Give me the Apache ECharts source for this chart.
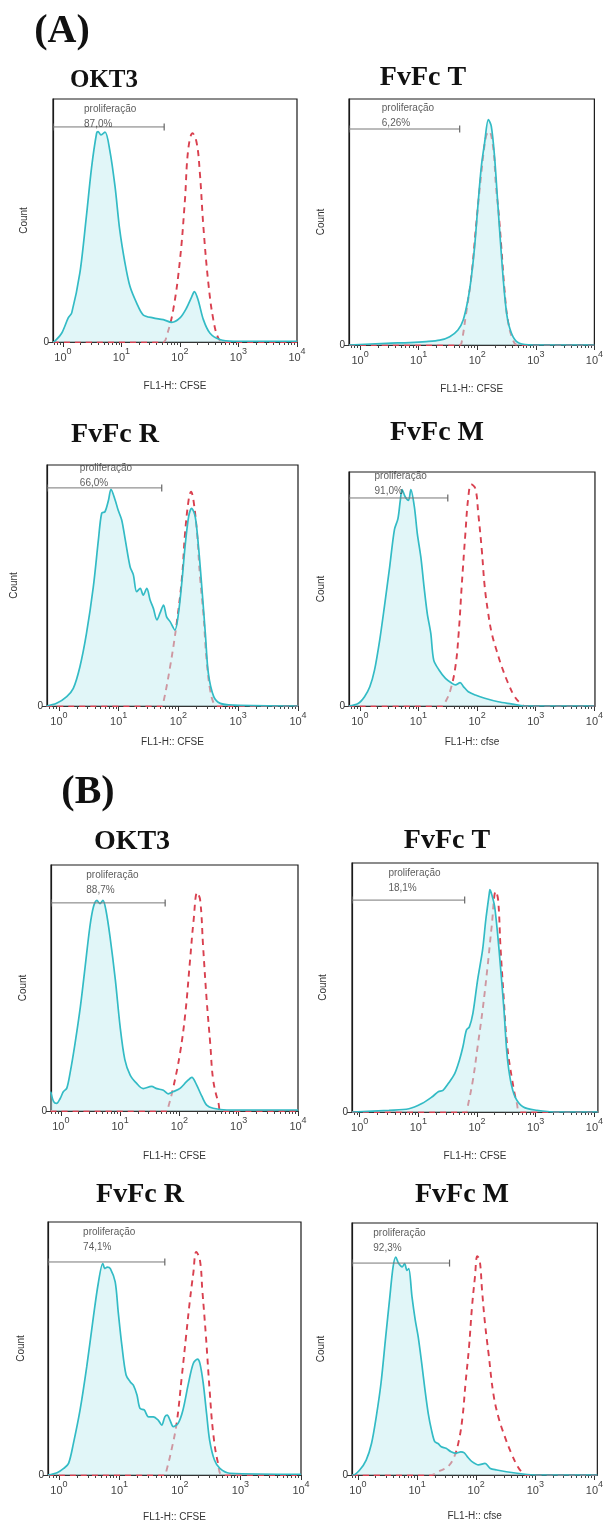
<!DOCTYPE html>
<html><head><meta charset="utf-8">
<script src="https://cdn.jsdelivr.net/npm/echarts@6/dist/echarts.min.js"></script>
<style>html,body{margin:0;padding:0;background:#fff}#c{width:606px;height:1526px}</style>
</head><body><div id="c"></div>
<script>
// ---------- DATA (x = log10 FL1-H intensity, y = count as % of plot height) ----------
const sectionLabels = ['(A)', '(B)'];
const panelTitles = ['OKT3', 'FvFc T', 'FvFc R', 'FvFc M', 'OKT3', 'FvFc T', 'FvFc R', 'FvFc M'];
const xAxisNames = ['FL1-H:: CFSE', 'FL1-H:: CFSE', 'FL1-H:: CFSE', 'FL1-H:: cfse', 'FL1-H:: CFSE', 'FL1-H:: CFSE', 'FL1-H:: CFSE', 'FL1-H:: cfse'];
const yAxisName = 'Count';
const gateName = 'proliferação';
const gatePercents = ['87,0%', '6,26%', '66,0%', '91,0%', '88,7%', '18,1%', '74,1%', '92,3%'];
const gateEnds = [1.73, 1.70, 1.72, 1.50, 1.76, 1.79, 1.75, 1.55];
const gateLevels = [88.5, 87.8, 90.5, 88.9, 84.6, 85.1, 84.2, 84.1];
const majorTicks = [0, 1, 2, 3, 4];
const yTicks = [0];

const A_OKT3_sample = [[-0.17,0],[-0.14,0.3],[-0.02,3.7],[0.09,9.9],[0.15,12],[0.29,28.5],[0.40,51.6],[0.49,72],[0.575,85.9],[0.60,86.6],[0.65,85.2],[0.72,86.4],[0.80,79],[0.89,64],[0.97,46.2],[1.06,32.5],[1.145,22.9],[1.26,16],[1.37,11.2],[1.54,9.9],[1.715,9.2],[1.86,8.1],[2.0,9.9],[2.11,13.9],[2.2,18.6],[2.245,20.7],[2.31,17.3],[2.40,9.2],[2.51,3.7],[2.68,1],[2.91,0.3],[4.0,0.3]];
const A_OKT3_control = [[-0.17,0],[1.715,0],[1.77,2.3],[1.885,13.3],[2.0,33.8],[2.085,58.5],[2.14,79],[2.215,85.9],[2.285,82],[2.34,69.5],[2.40,47.5],[2.485,24.2],[2.57,9.2],[2.655,1.6],[2.74,0],[4,0]];

const A_FvFcT_sample = [[-0.19,0],[0.45,0.7],[0.85,1],[1.13,1.4],[1.36,2],[1.53,3.4],[1.67,6.1],[1.76,10.2],[1.84,18.3],[1.90,27.8],[1.955,40],[2.01,56.3],[2.07,72.6],[2.125,82.1],[2.19,91.6],[2.24,88.9],[2.295,76.7],[2.35,57.7],[2.41,37.3],[2.465,21],[2.52,10.2],[2.61,3.4],[2.72,0.7],[2.95,0],[4,0]];
const A_FvFcT_control = [[-0.19,0],[1.70,0],[1.73,0.7],[1.81,12.9],[1.90,27.8],[1.98,48.2],[2.07,69.9],[2.15,84.8],[2.20,86.8],[2.27,80.6],[2.32,64.4],[2.37,52.2],[2.41,40],[2.465,22.4],[2.52,10.2],[2.61,2],[2.69,0],[4,0]];

const A_FvFcR_sample = [[-0.21,0],[-0.04,1.1],[0.13,3.9],[0.24,7.3],[0.35,16.2],[0.46,30],[0.575,49.4],[0.66,68.9],[0.715,80],[0.77,80.6],[0.83,85.5],[0.87,89.9],[0.94,85.5],[0.99,81.3],[1.05,77.2],[1.11,68.9],[1.19,57.8],[1.245,54.4],[1.30,47.4],[1.36,48.8],[1.41,46],[1.47,48.8],[1.525,44],[1.58,40.5],[1.64,35.7],[1.69,38.5],[1.75,41.9],[1.80,37.1],[1.86,35],[1.94,31.5],[2.0,38.5],[2.06,52.3],[2.11,66.1],[2.17,78.6],[2.22,82],[2.28,78.6],[2.335,66.1],[2.39,49.5],[2.45,30],[2.50,13.5],[2.59,3.9],[2.70,1.1],[2.92,0.4],[4,0]];
const A_FvFcR_control = [[-0.21,0],[1.72,0],[1.75,1.8],[1.86,16.3],[1.97,34.3],[2.06,53.7],[2.11,71.7],[2.17,85.5],[2.21,88.9],[2.25,85.5],[2.31,71.7],[2.36,53.7],[2.42,37.1],[2.47,19.1],[2.53,6.6],[2.59,1.1],[2.64,0],[4,0]];

const A_FvFcM_sample = [[-0.19,0],[-0.03,1.1],[0.08,4],[0.17,8.2],[0.25,15.3],[0.34,28.4],[0.42,42.7],[0.51,59.7],[0.59,75.4],[0.65,80.1],[0.69,87.9],[0.72,92.5],[0.775,89.3],[0.83,87.9],[0.87,92.5],[0.93,85.1],[0.98,73.7],[1.04,63.7],[1.095,50.9],[1.15,39.5],[1.21,31],[1.26,19.6],[1.35,15.4],[1.46,11.8],[1.57,9.7],[1.63,9],[1.71,10],[1.77,8.2],[1.85,6.1],[1.97,4.7],[2.13,3.3],[2.36,1.8],[2.58,0.9],[2.81,0],[4,0]];
const A_FvFcM_control = [[-0.19,0],[1.40,0],[1.46,1.8],[1.545,6.8],[1.63,16.8],[1.685,31],[1.74,52.3],[1.80,73.7],[1.85,89.3],[1.90,94.7],[1.97,92.9],[2.02,82.2],[2.08,66.6],[2.13,50.9],[2.19,39.5],[2.25,31],[2.33,23.9],[2.42,16.8],[2.53,9.7],[2.64,4],[2.75,0.9],[2.81,0],[4,0]];

const B_OKT3_sample = [[-0.17,7.9],[-0.12,3.8],[-0.07,3.1],[-0.01,5.1],[0.045,7.9],[0.10,9.2],[0.155,15.2],[0.24,27.4],[0.33,42.3],[0.41,58.5],[0.49,74.8],[0.55,82.9],[0.61,85.6],[0.66,84.3],[0.71,85.6],[0.76,81.8],[0.83,70.9],[0.92,53.3],[1.0,34.4],[1.08,20.9],[1.17,14.6],[1.28,11.2],[1.39,9.1],[1.53,10],[1.62,9.1],[1.73,8.4],[1.81,7.0],[1.90,7.9],[2.01,9.2],[2.12,11.9],[2.21,13.7],[2.29,10.6],[2.38,5.9],[2.46,2.4],[2.57,1.1],[2.80,0.4],[4,0.4]];
const B_OKT3_control = [[-0.17,0],[1.79,0],[1.815,1.8],[1.90,9.9],[2.01,23.4],[2.10,39.7],[2.18,61.4],[2.24,77.6],[2.30,88.8],[2.35,85.8],[2.40,66.8],[2.46,45.1],[2.52,27.5],[2.57,12.6],[2.66,3.1],[2.71,0],[4,0]];

const B_FvFcT_sample = [[-0.13,0],[0.50,0.7],[0.84,1.3],[1.06,3.4],[1.23,6.0],[1.34,8.1],[1.42,8.7],[1.51,11.4],[1.62,15.4],[1.70,20.8],[1.76,26.2],[1.82,32.9],[1.87,34.2],[1.93,39.6],[2.01,53],[2.095,65.1],[2.15,77.2],[2.21,87.9],[2.22,89.3],[2.26,86.6],[2.30,82.6],[2.35,71.8],[2.40,58.4],[2.46,40.9],[2.51,23.5],[2.57,12.8],[2.65,6],[2.79,2],[3.02,0.7],[3.35,0],[4.06,0]];
const B_FvFcT_control = [[-0.13,0],[1.82,0],[1.84,2],[1.93,12.8],[2.01,26.2],[2.095,40.9],[2.18,58.4],[2.25,74.5],[2.32,88.6],[2.36,85.2],[2.40,66.4],[2.45,47.7],[2.51,27.5],[2.60,12.8],[2.68,3.4],[2.74,0],[4.06,0]];

const B_FvFcR_sample = [[-0.18,0],[-0.03,0.9],[0.08,2.6],[0.16,4.6],[0.24,12.5],[0.35,25.7],[0.46,42.8],[0.57,62.5],[0.65,75.7],[0.725,83.6],[0.76,81.6],[0.80,82.2],[0.85,81.6],[0.93,76.3],[0.98,64.5],[1.04,51.3],[1.11,39.5],[1.18,36.8],[1.23,35.5],[1.29,31.6],[1.34,26.3],[1.41,25.7],[1.48,23.0],[1.56,23.0],[1.64,21.7],[1.70,19.7],[1.75,23.0],[1.79,23.7],[1.835,21.7],[1.89,19.1],[1.97,20.4],[2.05,25.7],[2.14,36.2],[2.22,44.1],[2.29,45.8],[2.33,44.1],[2.385,36.2],[2.44,24.3],[2.49,13.8],[2.57,5.9],[2.66,2.6],[2.82,0.7],[4,0.3]];
const B_FvFcR_control = [[-0.18,0],[1.75,0],[1.78,2],[1.86,9.9],[1.945,20.4],[2.03,38.8],[2.10,54.6],[2.165,69.1],[2.22,79.6],[2.27,88.2],[2.33,84.9],[2.37,73],[2.43,54.6],[2.49,33.6],[2.55,16.4],[2.63,4.6],[2.71,0],[4,0]];

const B_FvFcM_sample = [[-0.1,0],[-0.08,0],[0.03,2],[0.14,5.9],[0.23,12.5],[0.31,23.1],[0.39,36.3],[0.47,54.8],[0.54,70.7],[0.595,82.6],[0.64,86.5],[0.69,83.9],[0.75,82.6],[0.79,83.9],[0.83,81.2],[0.86,81.9],[0.915,70.7],[0.97,61.5],[1.02,54.8],[1.08,44.2],[1.135,33.7],[1.19,24.4],[1.245,17.8],[1.30,13.2],[1.355,12.5],[1.41,11.2],[1.49,10.6],[1.575,9.2],[1.66,8.6],[1.74,9.2],[1.80,8.8],[1.85,7.3],[1.93,5.3],[2.04,4],[2.15,4.6],[2.24,2.6],[2.35,2],[2.51,1.3],[2.79,0.4],[3.01,0],[4.05,0]];
const B_FvFcM_control = [[-0.1,0],[1.245,0],[1.355,1.3],[1.52,3.3],[1.63,7.3],[1.71,13.9],[1.77,23.1],[1.82,36.3],[1.88,50.9],[1.93,66.7],[1.98,78.6],[2.02,86.8],[2.06,85.2],[2.10,73.3],[2.15,60.1],[2.21,48.2],[2.29,32.4],[2.375,23.1],[2.485,15.2],[2.595,8.6],[2.705,3.3],[2.79,0.7],[2.84,0],[4.05,0]];

const samples = [A_OKT3_sample, A_FvFcT_sample, A_FvFcR_sample, A_FvFcM_sample, B_OKT3_sample, B_FvFcT_sample, B_FvFcR_sample, B_FvFcM_sample];
const controls = [A_OKT3_control, A_FvFcT_control, A_FvFcR_control, A_FvFcM_control, B_OKT3_control, B_FvFcT_control, B_FvFcR_control, B_FvFcM_control];

// ---------- LAYOUT ----------
const layout = [
  {left:53,  top:99,   w:244, h:243, xMin:-0.17,  xMax:4,    tx:104, ty:81,   ts:25, cGap:24, nGap:39, lx:0.36, ly:92.8},
  {left:349, top:99,   w:246, h:246, xMin:-0.19,  xMax:4,    tx:423, ty:78,   ts:28, cGap:23, nGap:39, lx:0.37, ly:93.3},
  {left:47,  top:465,  w:251, h:241, xMin:-0.2,   xMax:4,    tx:115, ty:435,  ts:28, cGap:28, nGap:31, lx:0.35, ly:95.5},
  {left:349, top:472,  w:249, h:234, xMin:-0.185, xMax:4.01, tx:437, ty:433,  ts:28, cGap:23, nGap:31, lx:0.25, ly:95.0},
  {left:51,  top:865,  w:247, h:246, xMin:-0.165, xMax:4,    tx:132, ty:842,  ts:28, cGap:23, nGap:40, lx:0.43, ly:92.9},
  {left:352, top:863,  w:250, h:249, xMin:-0.13,  xMax:4.06, tx:447, ty:841,  ts:28, cGap:24, nGap:39, lx:0.49, ly:93.0},
  {left:48,  top:1222, w:253, h:253, xMin:-0.18,  xMax:4,    tx:140, ty:1195, ts:28, cGap:22, nGap:37, lx:0.40, ly:92.9},
  {left:352, top:1223, w:251, h:252, xMin:-0.1,   xMax:4.05, tx:462, ty:1195, ts:28, cGap:26, nGap:36, lx:0.26, ly:93.1}
];
const sectionPos = [{x:62, y:32}, {x:88, y:793}];

// minor ticks (2..9 x 10^n) in log space
const minorTicks = [];
for (let n = -1; n < 4; n++) for (let k = 2; k <= 9; k++) minorTicks.push(n + Math.log10(k));

const SANS = '"Liberation Sans", Arial, sans-serif';
const SERIF = '"Liberation Serif", "Times New Roman", serif';

const grid = [], xAxis = [], yAxis = [], series = [], graphic = [];
layout.forEach((L, i) => {
  grid.push({left: L.left, top: L.top, width: L.w, height: L.h, show: true, borderColor: '#1a1a1a', borderWidth: 1.2, containLabel: false});
  const ticksIn = majorTicks.filter(v => v >= L.xMin && v <= L.xMax + 1e-9);
  xAxis.push({
    gridIndex: i, type: 'value', min: L.xMin, max: L.xMax, position: 'bottom',
    axisLine: {show: true, onZero: false, lineStyle: {color: '#333', width: 1.2}},
    axisTick: {show: true, customValues: ticksIn, length: 5, lineStyle: {color: '#333', width: 1}},
    axisLabel: {
      customValues: ticksIn, margin: 5, color: '#444',
      formatter: v => '{b|10}{s|' + Math.round(v) + '}',
      rich: {b: {fontSize: 11, lineHeight: 16, verticalAlign: 'bottom', fontFamily: SANS, color: '#444'},
             s: {fontSize: 9, lineHeight: 12, verticalAlign: 'top', fontFamily: SANS, color: '#444'}}
    },
    splitLine: {show: false},
    name: xAxisNames[i], nameLocation: 'middle', nameGap: L.nGap,
    nameTextStyle: {fontSize: 10, color: '#333', fontFamily: SANS}
  });
  xAxis.push({
    gridIndex: i, type: 'value', min: L.xMin, max: L.xMax, position: 'bottom',
    axisLine: {show: false}, axisLabel: {show: false}, splitLine: {show: false},
    axisTick: {show: true, customValues: minorTicks.filter(v => v > L.xMin && v < L.xMax), length: 3, lineStyle: {color: '#444', width: 1}}
  });
  yAxis.push({
    gridIndex: i, type: 'value', min: 0, max: 100,
    axisLine: {show: true, onZero: false, lineStyle: {color: '#1a1a1a', width: 1.2}},
    axisTick: {show: true, customValues: yTicks, length: 5, lineStyle: {color: '#333'}},
    axisLabel: {customValues: yTicks, formatter: v => String(v), fontSize: 10, color: '#333', fontFamily: SANS, margin: 4},
    splitLine: {show: false},
    name: yAxisName, nameLocation: 'middle', nameRotate: 90, nameGap: L.cGap,
    nameTextStyle: {fontSize: 10, color: '#333', fontFamily: SANS}
  });
  const xi = 2 * i;
  series.push({
    type: 'line', xAxisIndex: xi, yAxisIndex: i, data: controls[i], showSymbol: false,
    smooth: 0.4, z: 2,
    lineStyle: {color: '#d9404f', width: 1.9, type: [6, 5]}
  });
  series.push({
    type: 'line', xAxisIndex: xi, yAxisIndex: i, data: samples[i], showSymbol: false,
    smooth: 0.3, z: 3,
    lineStyle: {color: '#33bbc5', width: 1.7},
    areaStyle: {color: 'rgba(196,237,242,0.72)'}
  });
  series.push({
    type: 'line', xAxisIndex: xi, yAxisIndex: i, z: 4,
    data: [[L.xMin, gateLevels[i]], [gateEnds[i], gateLevels[i]]],
    symbol: 'rect', symbolSize: [1.2, 7], showSymbol: true, clip: false,
    itemStyle: {color: '#666'}, lineStyle: {color: '#777', width: 1}
  });
  series.push({
    type: 'scatter', xAxisIndex: xi, yAxisIndex: i, z: 5, symbolSize: 0,
    data: [[L.lx, L.ly]],
    label: {show: true, position: 'right', distance: 0, formatter: gateName + '\n' + gatePercents[i],
            fontSize: 10, lineHeight: 15, color: '#333', fontFamily: SANS, align: 'left'}
  });
  graphic.push({type: 'text', x: L.tx, y: L.ty,
    style: {text: panelTitles[i], font: 'bold ' + L.ts + 'px ' + SERIF, fill: '#111', align: 'center', verticalAlign: 'middle'}});
});
sectionLabels.forEach((s, j) => {
  graphic.push({type: 'text', x: sectionPos[j].x, y: sectionPos[j].y,
    style: {text: s, font: 'bold 40px ' + SERIF, fill: '#111', align: 'center', verticalAlign: 'middle'}});
});

const chart = echarts.init(document.getElementById('c'), null, {renderer: 'canvas'});
chart.setOption({
  animation: false,
  backgroundColor: '#fff',
  textStyle: {fontFamily: SANS},
  grid, xAxis, yAxis, series, graphic
});
</script></body></html>
